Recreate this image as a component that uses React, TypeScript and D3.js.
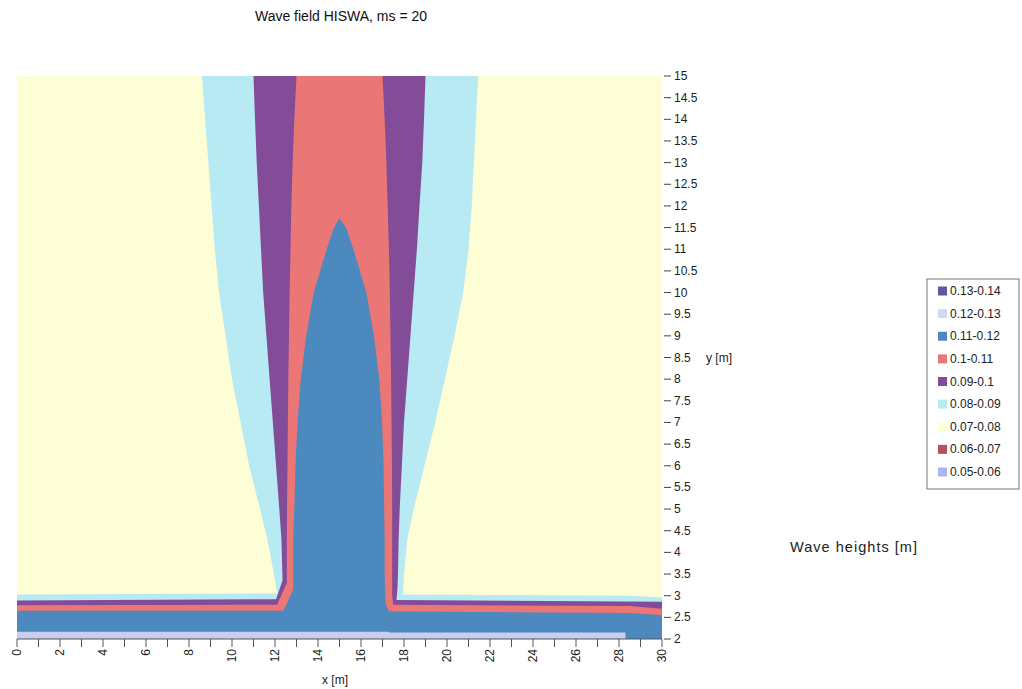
import React from "react";
import * as d3 from "d3";

type Pt = [number, number];

// Wave-height zones, outlined in metres [x, y]. Each outline encloses the area
// at or above the zone's lower bound, so zones are painted from low to high.
const zone008: Pt[] = [
  [8.6, 15], [8.75, 14], [8.9, 13], [9.05, 12], [9.2, 11], [9.4, 10], [9.7, 9], [10.0, 8],
  [10.4, 7], [10.8, 6], [11.3, 5], [11.65, 4.3], [11.95, 3.5], [12.1, 3.05],
  [0, 3.03], [0, 2], [30, 2], [30, 2.96], [28.5, 3.0], [17.95, 3.03],
  [18.0, 3.5], [18.15, 4.3], [18.45, 5], [18.95, 6], [19.45, 7], [19.9, 8], [20.35, 9],
  [20.75, 10], [21.0, 11], [21.15, 12], [21.25, 13], [21.35, 14], [21.45, 15],
];

const zone009: Pt[] = [
  [11.0, 15], [11.07, 14], [11.15, 13], [11.25, 12], [11.35, 11], [11.45, 10], [11.6, 9],
  [11.75, 8], [11.9, 7], [12.05, 6], [12.2, 5], [12.3, 4.3], [12.35, 3.35], [12.05, 2.92],
  [0, 2.89], [0, 2], [30, 2], [30, 2.86], [17.65, 2.9], [17.7, 3.2], [17.72, 3.5],
  [17.75, 4.3], [17.8, 5], [17.9, 6], [18.0, 7], [18.15, 8], [18.3, 9], [18.45, 10],
  [18.6, 11], [18.72, 12], [18.85, 13], [18.93, 14], [19.0, 15],
];

const zone010: Pt[] = [
  [13.0, 15], [12.9, 14], [12.82, 13], [12.76, 12], [12.72, 11], [12.68, 10], [12.65, 9],
  [12.62, 8], [12.6, 7], [12.58, 6], [12.56, 5], [12.55, 4.3], [12.55, 3.3], [12.1, 2.79],
  [0, 2.78], [0, 2], [30, 2], [30, 2.7], [28.5, 2.76], [17.5, 2.79], [17.45, 3.0],
  [17.45, 4.3], [17.45, 5], [17.44, 6], [17.42, 7], [17.4, 8], [17.37, 9], [17.34, 10],
  [17.3, 11], [17.24, 12], [17.18, 13], [17.1, 14], [17.0, 15],
];

const zone011: Pt[] = [
  [15, 11.72], [14.75, 11.5], [14.4, 11], [14.1, 10.5], [13.8, 10], [13.45, 9], [13.2, 8],
  [13.05, 7], [12.95, 6], [12.9, 5], [12.85, 4.3], [12.85, 3.15], [12.4, 2.65],
  [0, 2.65], [0, 2], [30, 2], [30, 2.55], [28.5, 2.6], [17.3, 2.64], [17.15, 2.8],
  [17.1, 3.5], [17.1, 4.3], [17.08, 5], [17.05, 6], [16.98, 7], [16.85, 8], [16.6, 9],
  [16.25, 10], [15.95, 10.5], [15.65, 11], [15.3, 11.5],
];

const zone012: Pt[] = [
  [0, 2.0], [0, 2.17], [17.3, 2.17], [17.3, 2.15], [28.3, 2.15], [28.3, 2.0],
];

// Legend classes, highest first
const legendLabels = [
  "0.13-0.14", "0.12-0.13", "0.11-0.12", "0.1-0.11", "0.09-0.1",
  "0.08-0.09", "0.07-0.08", "0.06-0.07", "0.05-0.06",
];
const legendColors = [
  "#5c5aa0", "#cfdcf0", "#4b89bf", "#ea7676", "#834c99",
  "#b8eaf4", "#fdfdd6", "#b4525f", "#aab4f0",
];

const xTicks = d3.range(0, 31, 1);
const xLabels = d3.range(0, 31, 2);
const yTicks = d3.range(2, 15.01, 0.5);

const FONT = "'Liberation Sans', Arial, sans-serif";

export default function App() {
  const left = 17, right = 662, top = 76, bottom = 639;
  const x = d3.scaleLinear().domain([0, 30]).range([left, right]);
  const y = d3.scaleLinear().domain([2, 15]).range([bottom, top]);
  const outline = d3.line<Pt>().x((d) => x(d[0])).y((d) => y(d[1]));
  const shape = (pts: Pt[]) => (outline(pts) || "") + "Z";

  const zones: { pts: Pt[]; color: string }[] = [
    { pts: zone008, color: legendColors[5] },
    { pts: zone009, color: legendColors[4] },
    { pts: zone010, color: legendColors[3] },
    { pts: zone011, color: legendColors[2] },
    { pts: zone012, color: "#c9cdee" },
  ];

  const legY = d3.scaleLinear().domain([0, legendLabels.length - 1]).range([291, 472]);

  return (
    <svg
      width={1022}
      height={689}
      style={{ position: "absolute", left: 0, top: 0, background: "#fff" }}
      fontFamily={FONT}
    >
      <text x={341} y={21} textAnchor="middle" fontSize={14} fill="#111">
        Wave field HISWA, ms = 20
      </text>

      {/* surface, viewed from above */}
      <rect x={left} y={top} width={right - left} height={bottom - top} fill={legendColors[6]} />
      {zones.map((z, i) => (
        <path key={i} d={shape(z.pts)} fill={z.color} />
      ))}

      {/* x axis */}
      <line x1={left} x2={right} y1={bottom} y2={bottom} stroke="#555" strokeWidth={1} />
      {xTicks.map((t) => (
        <line key={t} x1={x(t)} x2={x(t)} y1={bottom} y2={bottom + 8} stroke="#555" />
      ))}
      {xLabels.map((t) => (
        <text
          key={t}
          transform={`translate(${x(t)},${bottom + 10}) rotate(-90)`}
          textAnchor="end"
          dominantBaseline="central"
          fontSize={12}
          fill="#222"
        >
          {t}
        </text>
      ))}
      <text x={335} y={684} textAnchor="middle" fontSize={12} fill="#222">
        x [m]
      </text>

      {/* y axis on the right */}
      {yTicks.map((t) => (
        <g key={t}>
          <line x1={right + 2} x2={right + 9} y1={y(t)} y2={y(t)} stroke="#444" />
          <text x={right + 12} y={y(t)} dominantBaseline="central" fontSize={12} fill="#222">
            {t}
          </text>
        </g>
      ))}
      <text x={706} y={y(8.5)} dominantBaseline="central" fontSize={12} fill="#222">
        y [m]
      </text>

      {/* legend */}
      <rect x={927} y={279} width={92} height={210} fill="#fff" stroke="#777" strokeWidth={1} />
      {legendLabels.map((l, i) => (
        <g key={l}>
          <rect x={938} y={legY(i) - 4.5} width={9} height={9} fill={legendColors[i]} />
          <text x={950} y={legY(i)} dominantBaseline="central" fontSize={12} fill="#222">
            {l}
          </text>
        </g>
      ))}
      <text
        x={790}
        y={547}
        dominantBaseline="central"
        fontSize={14.5}
        textLength={127}
        lengthAdjust="spacing"
        fill="#222"
      >
        Wave heights [m]
      </text>
    </svg>
  );
}
